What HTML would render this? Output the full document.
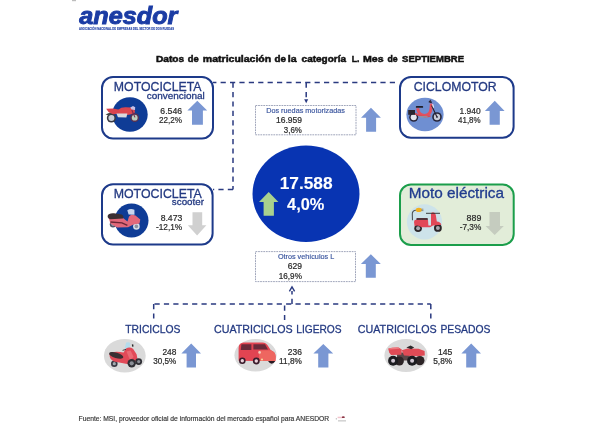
<!DOCTYPE html>
<html><head><meta charset="utf-8"><title>Matriculaciones categoría L</title>
<style>
html,body{margin:0;padding:0;background:#fff;}
body{width:600px;height:432px;overflow:hidden;font-family:"Liberation Sans", sans-serif;}
svg{display:block;will-change:transform;}
svg text{font-family:"Liberation Sans", sans-serif;}
</style></head>
<body>
<svg width="600" height="432" viewBox="0 0 600 432">
<text x="79.33" y="23.8" font-size="23.2" fill="#1b3ca4" font-weight="bold" font-style="italic" textLength="98.08" lengthAdjust="spacingAndGlyphs" stroke="#1b3ca4" stroke-width="0.9">anesdor</text>
<text x="78.98" y="30" font-size="3.4" fill="#1b3ca4" font-weight="bold" font-style="normal" textLength="95.07" lengthAdjust="spacingAndGlyphs" stroke="#1b3ca4" stroke-width="0.1">ASOCIACIÓN NACIONAL DE EMPRESAS DEL SECTOR DE DOS RUEDAS</text>
<text x="155.97" y="62.4" font-size="9.6" fill="#111" font-weight="bold" font-style="normal" textLength="28.20" lengthAdjust="spacingAndGlyphs" stroke="#111" stroke-width="0.5">Datos</text>
<text x="187.87" y="62.4" font-size="9.6" fill="#111" font-weight="bold" font-style="normal" textLength="10.90" lengthAdjust="spacingAndGlyphs" stroke="#111" stroke-width="0.5">de</text>
<text x="202.86" y="62.4" font-size="9.6" fill="#111" font-weight="bold" font-style="normal" textLength="68.34" lengthAdjust="spacingAndGlyphs" stroke="#111" stroke-width="0.5">matriculación</text>
<text x="274.45" y="62.4" font-size="9.6" fill="#111" font-weight="bold" font-style="normal" textLength="11.44" lengthAdjust="spacingAndGlyphs" stroke="#111" stroke-width="0.5">de</text>
<text x="287.81" y="62.4" font-size="9.6" fill="#111" font-weight="bold" font-style="normal" textLength="8.88" lengthAdjust="spacingAndGlyphs" stroke="#111" stroke-width="0.5">la</text>
<text x="301.61" y="62.4" font-size="9.6" fill="#111" font-weight="bold" font-style="normal" textLength="44.38" lengthAdjust="spacingAndGlyphs" stroke="#111" stroke-width="0.5">categoría</text>
<text x="351.67" y="62.4" font-size="9.6" fill="#111" font-weight="bold" font-style="normal" textLength="7.67" lengthAdjust="spacingAndGlyphs" stroke="#111" stroke-width="0.5">L.</text>
<text x="363.04" y="62.4" font-size="9.6" fill="#111" font-weight="bold" font-style="normal" textLength="20.65" lengthAdjust="spacingAndGlyphs" stroke="#111" stroke-width="0.5">Mes</text>
<text x="387.39" y="62.4" font-size="9.6" fill="#111" font-weight="bold" font-style="normal" textLength="10.15" lengthAdjust="spacingAndGlyphs" stroke="#111" stroke-width="0.5">de</text>
<text x="402.08" y="62.4" font-size="9.6" fill="#111" font-weight="bold" font-style="normal" textLength="61.95" lengthAdjust="spacingAndGlyphs" stroke="#111" stroke-width="0.5">SEPTIEMBRE</text>
<line x1="213" y1="82.6" x2="399" y2="82.6" stroke="#2a3a80" stroke-width="1.5" stroke-dasharray="5.2 4.2" stroke-dashoffset="1.8"/>
<line x1="233" y1="82.6" x2="233" y2="189.5" stroke="#2a3a80" stroke-width="1.5" stroke-dasharray="5.2 4.2" stroke-dashoffset="0"/>
<line x1="233" y1="189.5" x2="213" y2="189.5" stroke="#2a3a80" stroke-width="1.5" stroke-dasharray="5.2 4.2" stroke-dashoffset="0"/>
<line x1="306.2" y1="82.6" x2="306.2" y2="100" stroke="#2a3a80" stroke-width="1.5" stroke-dasharray="5.2 4.2" stroke-dashoffset="0"/>
<path d="M304.2 99.2 L308.2 99.2 L306.2 103.2 Z" fill="#2a3a80"/>
<line x1="153.7" y1="304.1" x2="430.8" y2="304.1" stroke="#2a3a80" stroke-width="1.5" stroke-dasharray="5.2 4.2" stroke-dashoffset="-0.8"/>
<line x1="153.7" y1="304" x2="153.7" y2="320" stroke="#2a3a80" stroke-width="1.5" stroke-dasharray="5.2 4.2" stroke-dashoffset="0"/>
<line x1="284.6" y1="304" x2="284.6" y2="320" stroke="#2a3a80" stroke-width="1.5" stroke-dasharray="5.2 4.2" stroke-dashoffset="-1.5"/>
<line x1="430.8" y1="304" x2="430.8" y2="320" stroke="#2a3a80" stroke-width="1.5" stroke-dasharray="5.2 4.2" stroke-dashoffset="0"/>
<line x1="292" y1="304" x2="292" y2="291" stroke="#2a3a80" stroke-width="1.5" stroke-dasharray="5.2 4.2" stroke-dashoffset="0"/>
<path d="M289.4 291.4 L292 286.9 L294.6 291.4" fill="none" stroke="#2a3a80" stroke-width="1.4"/>
<rect x="102" y="77.1" width="111" height="61.3" rx="11" fill="#fff" stroke="#1d3a8a" stroke-width="2"/>
<rect x="102" y="184.2" width="110.6" height="60.3" rx="11" fill="#fff" stroke="#1d3a8a" stroke-width="2"/>
<rect x="400" y="77" width="113.6" height="60.8" rx="11" fill="#fff" stroke="#1d3a8a" stroke-width="2"/>
<rect x="400" y="184.5" width="113.7" height="60.5" rx="11" fill="#e2edd9" stroke="#1b9e4b" stroke-width="2"/>
<rect x="255.5" y="105.5" width="100.5" height="29.3" fill="#fff" stroke="#8088a4" stroke-width="0.75" stroke-dasharray="1.8 0.8"/>
<rect x="255.5" y="251.6" width="100" height="30" fill="#fff" stroke="#8088a4" stroke-width="0.75" stroke-dasharray="1.8 0.8"/>
<ellipse cx="306" cy="193.8" rx="53.5" ry="48.2" fill="#0834b2"/>
<text x="279.66" y="189.3" font-size="17.4" fill="#fff" font-weight="bold" font-style="normal" textLength="52.92" lengthAdjust="spacingAndGlyphs" stroke="#fff" stroke-width="0.1">17.588</text>
<text x="287.10" y="210.1" font-size="17.2" fill="#fff" font-weight="bold" font-style="normal" textLength="37.28" lengthAdjust="spacingAndGlyphs" stroke="#fff" stroke-width="0.1">4,0%</text>
<path d="M268.7 191.9 L278.4 202 L273.9 202 L273.9 215.8 L263.6 215.8 L263.6 202 L259 202 Z" fill="#a9d18e"/>
<text x="113.85" y="90.7" font-size="13.2" fill="#243a82" font-weight="normal" font-style="normal" textLength="87.72" lengthAdjust="spacingAndGlyphs" stroke="#243a82" stroke-width="0.3">MOTOCICLETA</text>
<text x="146.73" y="98.6" font-size="9.6" fill="#243a82" font-weight="normal" font-style="normal" textLength="57.99" lengthAdjust="spacingAndGlyphs" stroke="#243a82" stroke-width="0.3">convencional</text>
<text x="160.37" y="113.7" font-size="8.9" fill="#2b2b2b" font-weight="normal" font-style="normal" textLength="21.70" lengthAdjust="spacingAndGlyphs" stroke="#2b2b2b" stroke-width="0.22">6.546</text>
<text x="158.90" y="123.1" font-size="8.9" fill="#2b2b2b" font-weight="normal" font-style="normal" textLength="23.08" lengthAdjust="spacingAndGlyphs" stroke="#2b2b2b" stroke-width="0.22">22,2%</text>
<path d="M197.3 100.8 L207.2 110.6 L202.9 110.6 L202.9 124.7 L192 124.7 L192 110.6 L187.4 110.6 Z" fill="#7a97d3"/>
<text x="113.65" y="198.1" font-size="13.2" fill="#243a82" font-weight="normal" font-style="normal" textLength="88.23" lengthAdjust="spacingAndGlyphs" stroke="#243a82" stroke-width="0.3">MOTOCICLETA</text>
<text x="171.88" y="205.3" font-size="9.6" fill="#243a82" font-weight="normal" font-style="normal" textLength="32.14" lengthAdjust="spacingAndGlyphs" stroke="#243a82" stroke-width="0.3">scooter</text>
<text x="160.63" y="220.6" font-size="8.9" fill="#2b2b2b" font-weight="normal" font-style="normal" textLength="21.64" lengthAdjust="spacingAndGlyphs" stroke="#2b2b2b" stroke-width="0.22">8.473</text>
<text x="155.94" y="230" font-size="8.9" fill="#2b2b2b" font-weight="normal" font-style="normal" textLength="26.24" lengthAdjust="spacingAndGlyphs" stroke="#2b2b2b" stroke-width="0.22">-12,1%</text>
<path d="M197.10000000000002 235.4 L206.4 225.3 L202.2 225.3 L202.2 212.3 L192.5 212.3 L192.5 225.3 L187.8 225.3 Z" fill="#d0d0d0"/>
<text x="413.73" y="90.8" font-size="13.6" fill="#243a82" font-weight="normal" font-style="normal" textLength="82.89" lengthAdjust="spacingAndGlyphs" stroke="#243a82" stroke-width="0.3">CICLOMOTOR</text>
<text x="459.57" y="113.7" font-size="8.9" fill="#2b2b2b" font-weight="normal" font-style="normal" textLength="21.15" lengthAdjust="spacingAndGlyphs" stroke="#2b2b2b" stroke-width="0.22">1.940</text>
<text x="458.03" y="123.1" font-size="8.9" fill="#2b2b2b" font-weight="normal" font-style="normal" textLength="22.65" lengthAdjust="spacingAndGlyphs" stroke="#2b2b2b" stroke-width="0.22">41,8%</text>
<path d="M494.75 100.8 L504.6 110.9 L499.8 110.9 L499.8 124.7 L489.6 124.7 L489.6 110.9 L484.9 110.9 Z" fill="#7a97d3"/>
<text x="408.69" y="198" font-size="14.3" fill="#203c8e" font-weight="normal" font-style="normal" textLength="95.36" lengthAdjust="spacingAndGlyphs" stroke="#203c8e" stroke-width="0.3">Moto eléctrica</text>
<text x="466.62" y="220.6" font-size="8.9" fill="#2b2b2b" font-weight="normal" font-style="normal" textLength="14.78" lengthAdjust="spacingAndGlyphs" stroke="#2b2b2b" stroke-width="0.22">889</text>
<text x="459.74" y="230" font-size="8.9" fill="#2b2b2b" font-weight="normal" font-style="normal" textLength="21.54" lengthAdjust="spacingAndGlyphs" stroke="#2b2b2b" stroke-width="0.22">-7,3%</text>
<path d="M494.70000000000005 235 L503.8 226.1 L500 226.1 L500 212.1 L489.5 212.1 L489.5 226.1 L485.6 226.1 Z" fill="#c5ccbf"/>
<text x="266.18" y="112.7" font-size="7.1" fill="#3a559e" font-weight="normal" font-style="normal" textLength="78.71" lengthAdjust="spacingAndGlyphs" stroke="#3a559e" stroke-width="0.15">Dos ruedas motorizadas</text>
<text x="275.96" y="123.2" font-size="8.6" fill="#2b2b2b" font-weight="normal" font-style="normal" textLength="26.03" lengthAdjust="spacingAndGlyphs" stroke="#2b2b2b" stroke-width="0.22">16.959</text>
<text x="283.81" y="132.7" font-size="8.6" fill="#2b2b2b" font-weight="normal" font-style="normal" textLength="18.06" lengthAdjust="spacingAndGlyphs" stroke="#2b2b2b" stroke-width="0.22">3,6%</text>
<path d="M370.95 107.8 L380.9 117.7 L376.1 117.7 L376.1 131.8 L366.1 131.8 L366.1 117.7 L361 117.7 Z" fill="#7a97d3"/>
<text x="277.93" y="259.1" font-size="6.8" fill="#3a559e" font-weight="normal" font-style="normal" textLength="56.23" lengthAdjust="spacingAndGlyphs" stroke="#3a559e" stroke-width="0.15">Otros vehículos L</text>
<text x="287.78" y="269" font-size="8.3" fill="#2b2b2b" font-weight="normal" font-style="normal" textLength="14.22" lengthAdjust="spacingAndGlyphs" stroke="#2b2b2b" stroke-width="0.22">629</text>
<text x="278.79" y="278.6" font-size="8.3" fill="#2b2b2b" font-weight="normal" font-style="normal" textLength="23.09" lengthAdjust="spacingAndGlyphs" stroke="#2b2b2b" stroke-width="0.22">16,9%</text>
<path d="M370.85 254.2 L380.8 263.9 L375.8 263.9 L375.8 277.8 L365.8 277.8 L365.8 263.9 L360.9 263.9 Z" fill="#7a97d3"/>
<text x="125.22" y="332.7" font-size="11.6" fill="#243a82" font-weight="normal" font-style="normal" textLength="55.21" lengthAdjust="spacingAndGlyphs" stroke="#243a82" stroke-width="0.3">TRICICLOS</text>
<text x="214.01" y="332.8" font-size="11.6" fill="#243a82" font-weight="normal" font-style="normal" textLength="78.62" lengthAdjust="spacingAndGlyphs" stroke="#243a82" stroke-width="0.3">CUATRICICLOS</text>
<text x="296.31" y="332.8" font-size="11.6" fill="#243a82" font-weight="normal" font-style="normal" textLength="45.30" lengthAdjust="spacingAndGlyphs" stroke="#243a82" stroke-width="0.3">LIGEROS</text>
<text x="357.81" y="332.8" font-size="11.6" fill="#243a82" font-weight="normal" font-style="normal" textLength="78.92" lengthAdjust="spacingAndGlyphs" stroke="#243a82" stroke-width="0.3">CUATRICICLOS</text>
<text x="440.40" y="332.8" font-size="11.6" fill="#243a82" font-weight="normal" font-style="normal" textLength="50.02" lengthAdjust="spacingAndGlyphs" stroke="#243a82" stroke-width="0.3">PESADOS</text>
<text x="162.39" y="354.9" font-size="8.4" fill="#2b2b2b" font-weight="normal" font-style="normal" textLength="13.96" lengthAdjust="spacingAndGlyphs" stroke="#2b2b2b" stroke-width="0.22">248</text>
<text x="153.30" y="364.4" font-size="8.4" fill="#2b2b2b" font-weight="normal" font-style="normal" textLength="22.98" lengthAdjust="spacingAndGlyphs" stroke="#2b2b2b" stroke-width="0.22">30,5%</text>
<path d="M191.2 343.6 L201 353.4 L196 353.4 L196 367.4 L186.6 367.4 L186.6 353.4 L181.4 353.4 Z" fill="#7a97d3"/>
<text x="287.89" y="354.9" font-size="8.4" fill="#2b2b2b" font-weight="normal" font-style="normal" textLength="14.07" lengthAdjust="spacingAndGlyphs" stroke="#2b2b2b" stroke-width="0.22">236</text>
<text x="279.10" y="364.4" font-size="8.4" fill="#2b2b2b" font-weight="normal" font-style="normal" textLength="22.78" lengthAdjust="spacingAndGlyphs" stroke="#2b2b2b" stroke-width="0.22">11,8%</text>
<path d="M323.29999999999995 344 L333.2 353.6 L328.4 353.6 L328.4 367.4 L318.2 367.4 L318.2 353.6 L313.4 353.6 Z" fill="#7a97d3"/>
<text x="437.96" y="354.9" font-size="8.4" fill="#2b2b2b" font-weight="normal" font-style="normal" textLength="14.29" lengthAdjust="spacingAndGlyphs" stroke="#2b2b2b" stroke-width="0.22">145</text>
<text x="433.18" y="364.4" font-size="8.4" fill="#2b2b2b" font-weight="normal" font-style="normal" textLength="19.01" lengthAdjust="spacingAndGlyphs" stroke="#2b2b2b" stroke-width="0.22">5,8%</text>
<path d="M471.2 343.4 L481 353.4 L476.3 353.4 L476.3 367.4 L466.2 367.4 L466.2 353.4 L461.4 353.4 Z" fill="#7a97d3"/>
<text x="78.52" y="420.5" font-size="6.5" fill="#333" font-weight="normal" font-style="normal" textLength="250.71" lengthAdjust="spacingAndGlyphs" stroke="#333" stroke-width="0.15">Fuente: MSI, proveedor oficial de información del mercado español para ANESDOR</text>
<ellipse cx="129.9" cy="114.5" rx="17.8" ry="17.2" fill="#0f3c96"/>
<g><circle cx="111.4" cy="118" r="4.6" fill="#3a3a42"/><circle cx="111.4" cy="118" r="3" fill="#c9ced6"/><circle cx="134.7" cy="117.7" r="4.4" fill="#5a3050"/><circle cx="134.7" cy="117.7" r="2.9" fill="#bcd0c0"/><path d="M105.5 114.5 L110 112.5 L113 113.5 L109 115.5 Z" fill="#444"/><path d="M106.2 108.8 L113 108.4 L121 110 L121 113.6 L113 114.2 L108.5 112 Z" fill="#d8434e"/><path d="M118.5 109.5 Q121 107 126 107.2 L131 107.6 L134.6 109.6 L135 112.6 L130.5 114.6 L124 115.4 L118.6 113.6 Z" fill="#db4650"/><path d="M130.3 107.4 L133 106 L135.2 107.2 L135 110 L131.6 109.4 Z" fill="#c8c0e6"/><path d="M116.4 113.4 L127.4 113.6 L126.4 117.4 L118 117.2 Z" fill="#d8d9de"/><path d="M131.8 110 L135 117.4" stroke="#7a2a50" stroke-width="1.1"/></g>
<ellipse cx="425" cy="114.5" rx="18.6" ry="16.7" fill="#6f8fd2"/>
<g><circle cx="413.7" cy="117.3" r="4.5" fill="#26253a"/><circle cx="413.7" cy="117.3" r="3" fill="#e4e6ee"/><circle cx="437" cy="117" r="4.8" fill="#26253a"/><circle cx="437" cy="117" r="3.2" fill="#c9cdd8"/><circle cx="437" cy="117" r="0.9" fill="#3a3a50"/><path d="M417.6 108.2 Q418.6 115.4 424.6 115.4 Q430.4 115.2 431 108.6 L431.4 103.6" fill="none" stroke="#e2505e" stroke-width="3"/><path d="M414.6 113.6 L419 115.2 L425.4 117 L430.6 116" fill="none" stroke="#d64b58" stroke-width="1.6"/><path d="M419.4 116.6 L427.6 117" stroke="#8e96a6" stroke-width="1.3"/><rect x="408.2" y="110" width="6.8" height="4.8" fill="#2a2630"/><rect x="415.8" y="106" width="7.4" height="1.8" rx="0.9" fill="#1e1e28"/><path d="M431.6 105.5 L437 117" stroke="#2a2230" stroke-width="1.1"/><path d="M432.6 104.2 L433.6 107.6" stroke="#e8eef8" stroke-width="1.2"/><path d="M428.8 101.4 L431.8 102.6" stroke="#2a2230" stroke-width="1.6"/><path d="M430.3 99.8 L430.3 101.6" stroke="#2a2230" stroke-width="1"/></g>
<circle cx="131.5" cy="220.5" r="17" fill="#0f3c96"/>
<g><circle cx="113" cy="224.3" r="3.2" fill="#50566a"/><circle cx="113" cy="224.3" r="1.6" fill="#9aa0aa"/><circle cx="136.4" cy="226.4" r="3.3" fill="#d8dee8"/><circle cx="136.4" cy="226.4" r="1.8" fill="#8a90a0"/><path d="M108.4 217.6 L123 218 L127.5 221.5 L129 216.5 L131.5 214.5 L135.5 215.4 L140.3 219.4 L139.5 223.4 L133.5 224.6 L128 227.2 L117 227.6 L110.5 223.4 Z" fill="#e2687a"/><path d="M107.6 216 Q108.4 212.8 114 213.2 L121.6 214.6 Q124.2 216.2 123 218.4 L110.4 219.2 Q107.6 218.6 107.6 216 Z" fill="#3a2f34"/><path d="M110.5 222 L122 222.8 L127.4 225.4" fill="none" stroke="#6a2636" stroke-width="1.3"/><path d="M127.3 210.2 Q130.6 208.2 134.4 209.8 L134.5 214.8 L128.6 214.4 Z" fill="#c8d6ee"/></g>
<circle cx="424.5" cy="221.9" r="17.6" fill="#cde3ea"/>
<g><path d="M416 210.2 Q412.2 210.4 412.3 214 L412.5 220.3" fill="none" stroke="#4c5458" stroke-width="1.1"/><ellipse cx="418.8" cy="209.9" rx="3.1" ry="2.1" fill="#f0b020"/><path d="M421.5 209.2 L423.4 209.2 M421.5 210.6 L423.4 210.6" stroke="#555" stroke-width="0.6"/><circle cx="418.1" cy="228.3" r="3.8" fill="#2b2528"/><circle cx="418.1" cy="228.3" r="2" fill="#a8a8b0"/><circle cx="437.9" cy="227.9" r="3.9" fill="#2b2528"/><circle cx="437.9" cy="227.9" r="2" fill="#a8a8b0"/><path d="M414 222 Q414 219.8 416 219.8 L428 219.8 L428.4 225.4 L431 225.6 L431 214 Q431 212.2 433 212.2 Q435.4 212.4 435.8 215 L436.8 221.6 Q440.6 222 441.4 224.8 L433 225.6 L430 227.2 L421.5 227.2 Q418 224.6 414.6 226.2 Z" fill="#e24858"/><rect x="416.3" y="218.1" width="11.6" height="2" rx="0.9" fill="#52323a"/><path d="M426 213.3 L440 213.3" stroke="#2b2b2b" stroke-width="0.9"/></g>
<ellipse cx="124.8" cy="355.7" rx="20.9" ry="16.8" fill="#dadada"/>
<g><path d="M124.4 349.4 L126.2 342.6 Q128.4 341.6 130.4 343 L129.4 349.4 Z" fill="#b4dbec"/><path d="M131.8 344.6 L133.2 344.2 L133.6 346.6 L132.2 346.8 Z" fill="#2a2a2a"/><circle cx="114.3" cy="363.7" r="3.3" fill="#3a3a44"/><circle cx="114.3" cy="363.7" r="1.6" fill="#a2acb0"/><path d="M109.4 354.2 Q109.6 359.6 114 361.4 L127 364 L134.5 362.4 L137.6 359.4 L136.6 354.2 L133 348.8 Q129.6 346.6 126 348.4 L123.6 352.6 Q117 351 111.4 352.4 Z" fill="#e14a58"/><path d="M126.5 351.6 L130.6 350.6 L133.6 357 L130 360 Z" fill="#ea6a74"/><circle cx="131.7" cy="363.3" r="4.2" fill="#2e2e34"/><circle cx="131.7" cy="363.3" r="2.1" fill="#8a8e96"/><circle cx="138.7" cy="361.6" r="3.4" fill="#2e2e34"/><circle cx="138.7" cy="361.6" r="1.6" fill="#8a8e96"/><ellipse cx="116.2" cy="355.4" rx="7.4" ry="2.7" transform="rotate(17 116.2 355.4)" fill="#3a2f33"/><path d="M122.6 350.4 L126 349.4" stroke="#3a2f33" stroke-width="0.9"/></g>
<ellipse cx="255.5" cy="355.2" rx="21.1" ry="16.3" fill="#dadada"/>
<g><path d="M238.6 360.8 L238.6 348 Q238.8 342.8 243.6 342.6 L262.4 342.6 Q266.2 342.8 268.4 346.4 L270.8 350.2 Q275.4 351.6 275.6 356.4 L275.4 361 Z" fill="#e24452"/><path d="M258.4 350.4 L270.8 350.2 Q275.4 351.6 275.6 356.4 L275.4 361 L259.6 361 Z" fill="#ee6660"/><path d="M241.4 344.3 L251.4 344.3 L251.4 350 L240.8 350 Z" fill="#6a2a3a"/><path d="M253.4 344.3 L265 344.3 L268 349.6 L253.4 349.6 Z" fill="#6a2a3a"/><circle cx="259.6" cy="352.4" r="1.3" fill="#f4d0c0"/><circle cx="262" cy="359.4" r="1" fill="#f6e0a0"/><circle cx="242.3" cy="360.7" r="3.3" fill="#3a1c2c"/><circle cx="242.3" cy="360.7" r="1.7" fill="#ecd2da"/><circle cx="256.3" cy="361" r="3.4" fill="#3a1c2c"/><circle cx="256.3" cy="361" r="1.7" fill="#ecd2da"/><path d="M268 361 Q271.7 366.4 275.4 361 Z" fill="#2a1a22"/></g>
<ellipse cx="406" cy="355.4" rx="21.6" ry="16.5" fill="#dadada"/>
<g><path d="M397 352.5 L409.5 352.5 L410 360.5 L397 360.5 Z" fill="#5a4648"/><path d="M388.2 348.6 Q392 347.4 398.6 347.6 L401.8 349.6 L401.4 354.8 L391 355 L389.2 352.4 Z" fill="#e04b56"/><path d="M401.8 350.2 L407.4 348.6 L418.6 348.8 L424.6 351 L424.8 355.6 L417 356.2 L404 355.6 Z" fill="#e04b56"/><path d="M389 348.4 Q393 347.4 398.6 347.6 L399.4 348.8 L389.6 349.6 Z" fill="#ee7a80"/><path d="M406.4 347.4 L410.6 345.6 L414.2 347.6 L411.2 349.2 Z" fill="#2e2a2c"/><circle cx="399.4" cy="361" r="4.5" fill="#2c2426"/><circle cx="393.1" cy="360.8" r="5" fill="#1c1c20"/><circle cx="393.1" cy="360.8" r="2" fill="#cfc6d2"/><circle cx="419.8" cy="360.6" r="4.7" fill="#2c2426"/><circle cx="412.1" cy="360.8" r="5" fill="#1c1c20"/><circle cx="412.1" cy="360.8" r="2" fill="#cfc6d2"/></g>
<circle cx="336.3" cy="418.8" r="0.6" fill="#9a9a9a"/>
<rect x="337.6" y="416.7" width="5" height="1.5" fill="#f2c4cc"/>
<ellipse cx="343.3" cy="417.2" rx="1.5" ry="0.9" fill="#8a3444"/>
<rect x="338" y="420" width="8" height="1.6" fill="#d4d4d4"/>
<rect x="72" y="0" width="4" height="1.2" fill="#bdbdbd"/>
</svg>
</body></html>
